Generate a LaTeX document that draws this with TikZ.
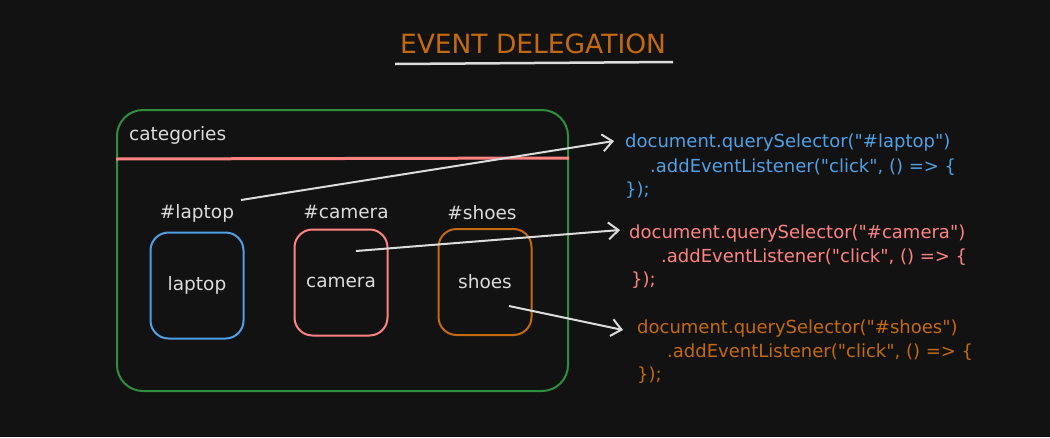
\documentclass[tikz,border=0pt]{standalone}
\usepackage{fontspec}
\setmainfont{DejaVu Sans}
\newfontfamily\codefont{DejaVu Sans}
\usetikzlibrary{arrows.meta}

\definecolor{bgdark}{HTML}{121212}
\definecolor{inkgray}{HTML}{DCDCDC}
\definecolor{grpgreen}{HTML}{2F8F3F}
\definecolor{selred}{HTML}{FF8383}
\definecolor{selblue}{HTML}{4FA0E6}
\definecolor{selorange}{HTML}{C46A0E}

\tikzset{
  lbl/.style={text=inkgray, font=\fontsize{18.5}{22}\selectfont, inner sep=0pt},
  itembox/.style={draw=#1, line width=2pt, rounded corners=18pt, minimum width=93pt, minimum height=106pt, inner sep=0pt},
  codeln/.style={text=#1, anchor=west, font=\codefont\fontsize{18}{21}\selectfont, inner sep=0pt},
  wire/.style={draw=inkgray, line width=2pt, -{Straight Barb[length=10pt,width=17pt,line width=2pt]}}
}

\begin{document}
\begin{tikzpicture}[x=1pt,y=-1pt]
    \fill[bgdark] (0,0) rectangle (1050,437);

    % title
    \node [text=selorange, font=\fontsize{26.5}{30}\selectfont, inner sep=0pt] (title) at (533,44) {EVENT DELEGATION};
    \draw[inkgray, line width=2.5pt] (395,64) -- (673,62);

    % categories container
    \node [draw=grpgreen, line width=2pt, rounded corners=26pt, minimum width=451pt, minimum height=281pt, inner sep=0pt] (cats) at (342.5,250.5) {};
    \node [lbl, anchor=west] (catname) at (129,135) {categories};
    \draw[selred, line width=3pt] (116,159) -- (569,158);

    % items
    \node [lbl] (hlaptop) at (197,213) {\#laptop};
    \node [lbl] (hcamera) at (346,212) {\#camera};
    \node [lbl] (hshoes) at (482,213) {\#shoes};

    \node [itembox=selblue] (laptop) at (197,285.5) {};
    \node [itembox=selred] (camera) at (341,282.5) {};
    \node [itembox=selorange] (shoes) at (485,282) {};
    \node [lbl] at (laptop) {laptop};
    \node [lbl] at (camera) {camera};
    \node [lbl] at (shoes) {shoes};

    % code
    \node [codeln=selblue] (lap1) at (625,143) {document.querySelector("\#laptop")};
    \node [codeln=selblue] (lap2) at (650,167) {.addEventListener("click", () => \{};
    \node [codeln=selblue] (lap3) at (625,190) {\});};

    \node [codeln=selred] (cam1) at (629,234) {document.querySelector("\#camera")};
    \node [codeln=selred] (cam2) at (661,257) {.addEventListener("click", () => \{};
    \node [codeln=selred] (cam3) at (631,280) {\});};

    \node [codeln=selorange] (sho1) at (637,329) {document.querySelector("\#shoes")};
    \node [codeln=selorange] (sho2) at (667,352) {.addEventListener("click", () => \{};
    \node [codeln=selorange] (sho3) at (637,375) {\});};

    % connectors
    \coordinate (fromlap) at (241,200);
    \coordinate (fromcam) at (356,251);
    \coordinate (fromsho) at (509,306);
    \draw[wire] (fromlap) -- ([xshift=-11pt,yshift=2pt]lap1.west);
    \draw[wire] (fromcam) -- ([xshift=-9pt,yshift=4pt]cam1.west);
    \draw[wire] (fromsho) -- ([xshift=-14pt,yshift=-1pt]sho1.west);
\end{tikzpicture}
\end{document}
